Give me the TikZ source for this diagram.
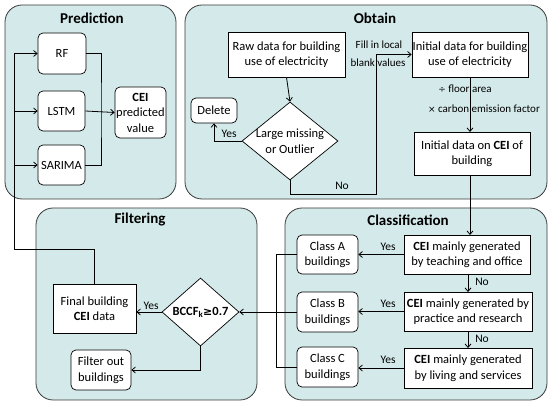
\documentclass[tikz,border=0pt]{standalone}
\usepackage{fontspec}
\setmainfont{Carlito}
\newfontfamily\symf{DejaVu Sans}
\usetikzlibrary{shapes.geometric,arrows.meta}
\definecolor{panelc}{HTML}{D4E9EA}
\definecolor{edgec}{HTML}{3A3A3A}
\begin{document}
\begin{tikzpicture}[x=1pt,y=-1pt,
  panel/.style={draw=edgec,fill=panelc,rounded corners=17pt,line width=0.8pt},
  ptitle/.style={font=\fontsize{15}{17}\selectfont\bfseries},
  box/.style={draw=black,fill=white,align=center,inner sep=0pt,line width=0.7pt,font=\fontsize{12.5}{15.5}\selectfont},
  rbox/.style={box,rounded corners=5pt},
  dia/.style={draw=black,fill=white,diamond,inner sep=0pt,line width=0.7pt},
  lbl/.style={font=\fontsize{11.5}{13}\selectfont,inner sep=1pt},
  slbl/.style={font=\fontsize{11}{12}\selectfont,inner sep=1pt},
  arr/.style={-{Straight Barb[length=3.5pt,width=6pt]},line width=0.8pt},
  ln/.style={line width=0.8pt}]
\useasboundingbox (0,0) rectangle (550,406);
% panels
\draw[panel] (5,5) rectangle (176,199);
\draw[panel] (185,5) rectangle (547,199);
\draw[panel] (36,208) rectangle (257,400);
\draw[panel] (285,208) rectangle (547,400);
\node[ptitle] (tpred) at (92,18) {Prediction};
\node[ptitle] (tobt) at (375,18) {Obtain};
\node[ptitle] (tfil) at (140,220) {Filtering};
\node[ptitle] (tcls) at (408,220) {Classification};
% Prediction
\node[rbox,minimum width=48,minimum height=41] (rf) at (62,53.5) {RF};
\node[rbox,minimum width=47,minimum height=40] (lstm) at (61.5,111) {LSTM};
\node[rbox,minimum width=47,minimum height=40] (sarima) at (61.5,165) {SARIMA};
\node[rbox,minimum width=51,minimum height=51] (pred) at (140.5,112.5) {\textbf{CEI}\\predicted\\value};
\coordinate (pj) at (101,111);
\draw[ln] (rf.east) -| (pj) |- (sarima.east);
\draw[arr] (lstm.east) -- (pred.west);
% Obtain
\node[box,minimum width=117,minimum height=45] (raw) at (286.5,54.5) {Raw data for building\\use of electricity};
\node[dia,minimum width=96,minimum height=78] (dq) at (290,141) {};
\node[box,draw=none,fill=none] (dqt) at (dq) {Large missing\\or Outlier};
\node[rbox,minimum width=46,minimum height=25] (del) at (214,110.5) {Delete};
\node[box,minimum width=116,minimum height=45] (init) at (470,54.5) {Initial data for building\\use of electricity};
\node[box,minimum width=116,minimum height=43] (ceii) at (472,153.5) {Initial data on \textbf{CEI} of\\building};
\draw[arr] (raw.south) -- (dq.north);
\draw[arr] (dq.west) -| (del.south);
\node[lbl] (yes0) at (229,134) {Yes};
\coordinate (nb) at (290,194);
\coordinate (nc) at (376,194);
\draw[arr] (dq.south) -- (nb) -- (nc) |- (init.west);
\node[lbl] (no0) at (342,186) {No};
\node[slbl] (fill1) at (379,45) {Fill in local};
\node[slbl] (fill2) at (378,63) {blank values};
\draw[arr] (init.south -| 470,0) -- (470,132.0);
\node[slbl] (fa) at (465,89) {{\symf\fontsize{9}{10}\selectfont÷} floor area};
\node[slbl] (cf) at (484,109) {{\symf\fontsize{9}{10}\selectfont×} carbon emission factor};
% Classification
\node[box,minimum width=126,minimum height=39] (c1) at (467,254.5) {\textbf{CEI} mainly generated\\by teaching and office};
\node[box,minimum width=128,minimum height=39] (c2) at (468,311.5) {\textbf{CEI} mainly generated by\\practice and research};
\node[box,minimum width=128,minimum height=40] (c3) at (468,368) {\textbf{CEI} mainly generated\\by living and services};
\draw[arr] (470,175) -- (470,235);
\node[rbox,minimum width=61,minimum height=39] (ca) at (327.5,254.5) {Class A\\buildings};
\node[rbox,minimum width=61,minimum height=40] (cb) at (327.5,312) {Class B\\buildings};
\node[rbox,minimum width=61,minimum height=40] (cc) at (327.5,367) {Class C\\buildings};
\draw[arr] (c1.west) -- (ca.east);
\draw[arr] (c2.west) -- (cb.east |- c2.west);
\draw[arr] (c3.west) -- (cc.east |- c3.west);
\node[lbl] (y1) at (388,247) {Yes};
\node[lbl] (y2) at (388,304) {Yes};
\node[lbl] (y3) at (388,360) {Yes};
\draw[arr] (468,274) -- (468,292);
\draw[arr] (468,331) -- (468,348);
\node[lbl] (n1) at (482,282) {No};
\node[lbl] (n2) at (482,339) {No};
\coordinate (bt) at (276,254.5);
\coordinate (bb) at (276,367);
\draw[ln] (ca.west) -- (bt) -- (bb) -- (cc.west);
% Filtering
\node[dia,minimum width=77,minimum height=68] (bc) at (200.5,312) {};
\node[box,draw=none,fill=none,font=\fontsize{12.5}{14}\selectfont\bfseries] (bct) at (bc) {BCCF\textsubscript{k}{\symf\fontsize{11}{12}\selectfont≥}0.7};
\draw[arr] (cb.west) -- (bc.east);
\node[box,minimum width=83,minimum height=49] (fin) at (94.5,308.5) {Final building\\\textbf{CEI} data};
\node[rbox,minimum width=60,minimum height=40] (fo) at (101,370) {Filter out\\buildings};
\draw[arr] (bc.west) -- (fin.east |- bc.west);
\node[lbl] (y4) at (151,306) {Yes};
\draw[arr] (bc.south) |- (fo.east);
% feedback to prediction
\coordinate (f1) at (94.5,249);
\coordinate (f2) at (14,249);
\coordinate (f3) at (14,53.5);
\draw[ln] (fin.north) -- (f1) -- (f2) -- (f3);
\draw[arr] (f3) -- (rf.west);
\draw[arr] (f3 |- lstm.west) -- (lstm.west);
\draw[arr] (f3 |- sarima.west) -- (sarima.west);
\end{tikzpicture}
\end{document}
